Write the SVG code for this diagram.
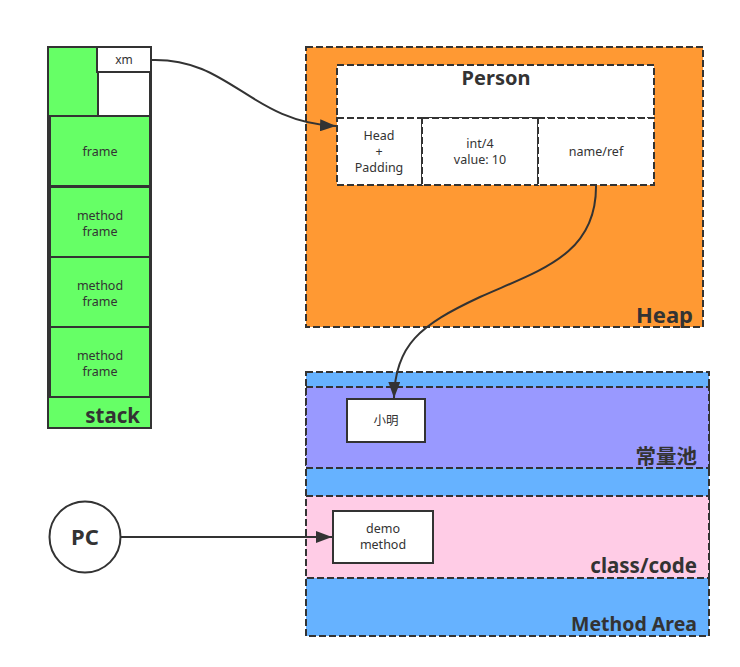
<svg xmlns="http://www.w3.org/2000/svg" width="740" height="667" viewBox="0 0 740 667">
<defs>
<style>
.t{font-family:"Noto Sans","Open Sans","Noto Sans CJK SC",sans-serif;fill:#333;font-size:12.5px;text-anchor:middle}
.b{font-family:"Noto Sans","Open Sans","Noto Sans CJK SC",sans-serif;fill:#333;font-weight:bold;font-size:20.5px;text-anchor:end}
.s{stroke:#333;stroke-width:2}
.d{stroke:#333;stroke-width:2;stroke-dasharray:7 3}
.c{fill:none;stroke:#333;stroke-width:2}
</style>
<marker id="ah" markerWidth="16" markerHeight="12" refX="16" refY="6" orient="auto" markerUnits="userSpaceOnUse"><path d="M0,0 L16,6 L0,12 z" fill="#333"/></marker>
</defs>
<g id="stack">
<rect x="48" y="47" width="103" height="381" fill="#66FF66" class="s"/>
<rect x="97" y="47" width="54" height="25" fill="#fff" class="s"/>
<text x="124" y="64" class="t" style="font-size:12px">xm</text>
<rect x="98" y="72" width="52" height="44" fill="#fff" class="s"/>
<rect x="50" y="116" width="100" height="70" fill="#66FF66" class="s"/>
<text x="100" y="156" class="t">frame</text>
<rect x="50" y="187" width="100" height="70" fill="#66FF66" class="s"/>
<text x="100" y="220" class="t">method</text><text x="100" y="236" class="t">frame</text>
<rect x="50" y="257" width="100" height="70" fill="#66FF66" class="s"/>
<text x="100" y="290" class="t">method</text><text x="100" y="306" class="t">frame</text>
<rect x="50" y="327" width="100" height="70" fill="#66FF66" class="s"/>
<text x="100" y="360" class="t">method</text><text x="100" y="376" class="t">frame</text>
<text x="140" y="423" class="b">stack</text>
</g>
<g id="heap">
<rect x="306" y="47" width="397" height="280" fill="#FF9933" class="d"/>
<text x="693" y="323" class="b" style="font-size:22px">Heap</text>
</g>
<g id="person">
<rect x="337" y="65" width="317" height="53" fill="#fff" class="d"/>
<text x="496" y="85" class="t" style="font-size:20px;font-weight:bold">Person</text>
<rect x="337" y="118" width="85" height="67" fill="#fff" class="d"/>
<text x="379" y="140" class="t">Head</text><text x="379" y="156" class="t">+</text><text x="379" y="172" class="t">Padding</text>
<rect x="422" y="118" width="116" height="67" fill="#fff" class="d"/>
<text x="480" y="148" class="t">int/4</text><text x="480" y="164" class="t">value: 10</text>
<rect x="538" y="118" width="116" height="67" fill="#fff" class="d"/>
<text x="596" y="156" class="t">name/ref</text>
</g>
<g id="method-area">
<rect x="306" y="372" width="403" height="264" fill="#66B2FF" class="d"/>
<rect x="306" y="387" width="403" height="81" fill="#9999FF" class="d"/>
<text x="697" y="464" class="b">常量池</text>
<rect x="306" y="496" width="403" height="82" fill="#FFCCE6" class="d"/>
<text x="697" y="573" class="b">class/code</text>
<text x="697" y="631" class="b" style="font-size:19.5px">Method Area</text>
</g>
<g id="xiaoming">
<rect x="347" y="399" width="78" height="43" fill="#fff" class="s"/>
<text x="386" y="425" class="t">小明</text>
</g>
<g id="demo">
<rect x="333" y="511" width="100" height="52" fill="#fff" class="s"/>
<text x="383" y="533" class="t">demo</text><text x="383" y="549" class="t">method</text>
</g>
<g id="pc">
<circle cx="85" cy="537" r="35.5" fill="#fff" class="s"/>
<text x="85" y="545" class="t" style="font-size:22px;font-weight:bold">PC</text>
</g>
<g id="connectors">
<path d="M152,60 C230,58 250,122 336,126" class="c" marker-end="url(#ah)"/>
<path d="M596,185 C597,255 540,270 480,297 C420,325 395,345 394,398" class="c" marker-end="url(#ah)"/>
<path d="M121,537 L332,537" class="c" marker-end="url(#ah)"/>
</g>
</svg>
